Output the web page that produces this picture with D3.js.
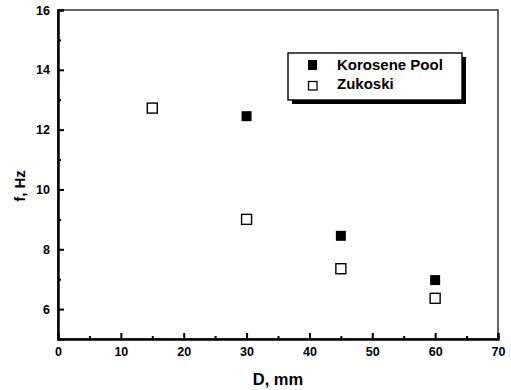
<!DOCTYPE html>
<html><head><meta charset="utf-8">
<script src="https://cdn.jsdelivr.net/npm/d3@7"></script>
<style>body{margin:0;background:#fff}svg{display:block}text{font-family:"Liberation Sans",Arial,sans-serif;font-weight:bold;fill:#000}</style>
</head><body>
<script>
const keroseneD = [30, 45, 60];
const keroseneF = [12.45, 8.45, 6.97];
const zukoskiD = [15, 30, 45, 60];
const zukoskiF = [12.72, 9.0, 7.35, 6.36];
const xTicks = [0, 10, 20, 30, 40, 50, 60, 70];
const yTicks = [6, 8, 10, 12, 14, 16];
const seriesNames = ["Korosene Pool", "Zukoski"];

const W = 511, H = 390;
const m = {l: 58, r: 13, t: 10, b: 51};
const svg = d3.select("body").append("svg").attr("width", W).attr("height", H);
const x = d3.scaleLinear().domain([0, 70]).range([m.l, W - m.r]);
const y = d3.scaleLinear().domain([5, 16]).range([H - m.b, m.t]);

// frame
svg.append("rect").attr("x", x(0)).attr("y", y(16)).attr("width", x(70) - x(0)).attr("height", y(5) - y(16))
  .attr("fill", "none").attr("stroke", "#000").attr("stroke-width", 1.2);

// axes with inward ticks
const xa = svg.append("g").attr("transform", `translate(0,${y(5)})`)
  .call(d3.axisBottom(x).tickValues(xTicks).tickSize(-6).tickPadding(8).tickFormat(d3.format("d")));
const xm = svg.append("g").attr("transform", `translate(0,${y(5)})`)
  .call(d3.axisBottom(x).tickValues(d3.range(5, 70, 10)).tickSize(-3).tickFormat(""));
const ya = svg.append("g").attr("transform", `translate(${x(0)},0)`)
  .call(d3.axisLeft(y).tickValues(yTicks).tickSize(-6).tickPadding(8).tickFormat(d3.format("d")));
const ym = svg.append("g").attr("transform", `translate(${x(0)},0)`)
  .call(d3.axisLeft(y).tickValues(d3.range(5, 16, 2)).tickSize(-3).tickFormat(""));
[xa, xm, ya, ym].forEach(g => {
  g.select(".domain").attr("stroke-width", 2);
  g.selectAll(".tick line").attr("stroke-width", 2);
  g.selectAll("text").attr("font-size", 12.5).attr("font-weight", "bold").attr("font-family", "'Liberation Sans', Arial, sans-serif");
});

// axis titles
svg.append("text").attr("x", 278).attr("y", 385).attr("text-anchor", "middle").attr("font-size", 16.5).text("D, mm");
svg.append("text").attr("transform", `translate(25,186) rotate(-90)`).attr("text-anchor", "middle").attr("font-size", 15).text("f, Hz");

const s = 10;
svg.selectAll(".k").data(keroseneD).join("rect").attr("class", "k")
  .attr("x", (d) => x(d) - s / 2).attr("y", (d, i) => y(keroseneF[i]) - s / 2)
  .attr("width", s).attr("height", s).attr("fill", "#000");
svg.selectAll(".z").data(zukoskiD).join("rect").attr("class", "z")
  .attr("x", (d) => x(d) - s / 2).attr("y", (d, i) => y(zukoskiF[i]) - s / 2)
  .attr("width", s).attr("height", s).attr("fill", "#fff").attr("stroke", "#000").attr("stroke-width", 1.4);

// legend
const lg = svg.append("g");
lg.append("rect").attr("x", 292).attr("y", 57).attr("width", 174).attr("height", 47).attr("fill", "#000");
lg.append("rect").attr("x", 288).attr("y", 53).attr("width", 174).attr("height", 47).attr("fill", "#fff").attr("stroke", "#000").attr("stroke-width", 1.4);
lg.append("rect").attr("x", 308).attr("y", 60).attr("width", 9).attr("height", 10).attr("fill", "#000");
lg.append("rect").attr("x", 308.5).attr("y", 81.5).attr("width", 8.5).attr("height", 8.5).attr("fill", "#fff").attr("stroke", "#000").attr("stroke-width", 1.3);
lg.append("text").attr("x", 337).attr("y", 70).attr("font-size", 15).text(seriesNames[0]);
lg.append("text").attr("x", 337).attr("y", 88.5).attr("font-size", 15).text(seriesNames[1]);
</script>
</body></html>
